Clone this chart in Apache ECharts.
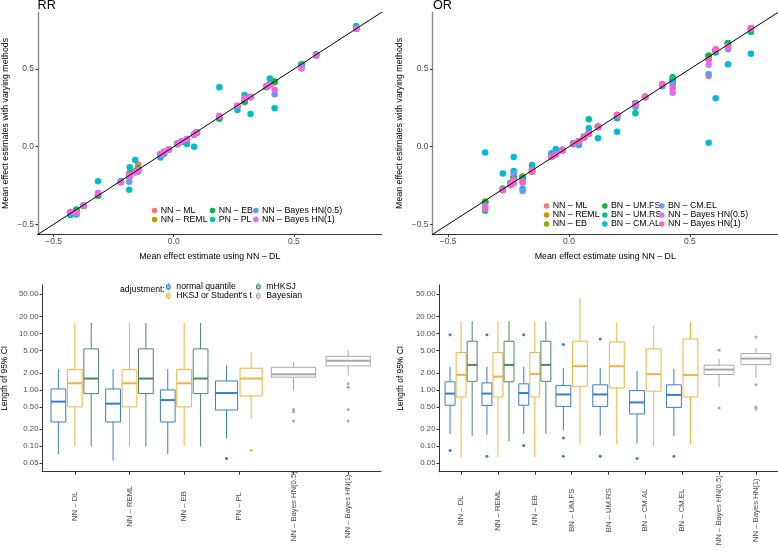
<!DOCTYPE html>
<html><head><meta charset="utf-8">
<script src="https://cdn.jsdelivr.net/npm/echarts@6/dist/echarts.min.js"></script>
<style>html,body{margin:0;padding:0;background:#fff}#c{width:778px;height:554px}</style>
</head><body><div id="c"></div>
<script>
// ---------- top panels: mean effect estimates (x = NN – DL) ----------
const rrDL   = [-0.43,-0.405,-0.375,-0.315,-0.22,-0.185,-0.183,-0.16,-0.148,-0.055,-0.04,-0.02,0.015,0.035,0.055,0.085,0.095,0.19,0.265,0.295,0.32,0.385,0.40,0.42,0.532,0.593,0.76];
const rrML   = [-0.425,-0.41,-0.38,-0.31,-0.225,-0.19,-0.17,-0.16,-0.116,-0.05,-0.035,-0.018,0.018,0.033,0.048,0.078,0.09,0.185,0.26,0.29,0.32,0.385,0.40,0.415,0.53,0.593,0.76];
const rrREML = [-0.425,-0.41,-0.38,-0.31,-0.225,-0.19,-0.17,-0.16,-0.14,-0.05,-0.035,-0.018,0.018,0.033,0.048,0.078,0.09,0.185,0.26,0.29,0.32,0.385,0.40,0.415,0.53,0.593,0.76];
const rrEB   = [-0.425,-0.405,-0.38,-0.316,-0.225,-0.19,-0.172,-0.16,-0.14,-0.05,-0.035,-0.018,0.018,0.033,0.048,0.078,0.09,0.18,0.26,0.29,0.32,0.385,0.40,0.42,0.53,0.593,0.76];
const rrPL   = [-0.44,-0.437,-0.382,-0.222,-0.225,-0.277,-0.133,-0.086,-0.16,-0.069,-0.045,-0.02,0.015,0.03,0.017,0.0,0.095,0.383,0.237,0.333,0.21,0.385,0.44,0.247,0.53,0.595,0.778];
const rrB05  = [-0.42,-0.425,-0.378,-0.30,-0.228,-0.226,-0.19,-0.165,-0.15,-0.05,-0.035,-0.018,0.02,0.035,0.05,0.08,0.092,0.195,0.262,0.31,0.318,0.39,0.395,0.338,0.51,0.588,0.76];
const rrB1   = [-0.42,-0.425,-0.38,-0.298,-0.23,-0.18,-0.19,-0.165,-0.155,-0.05,-0.035,-0.018,0.02,0.035,0.05,0.08,0.092,0.198,0.265,0.31,0.32,0.39,0.395,0.366,0.503,0.588,0.76];
const rrMethodNames = ['NN – ML','NN – REML','NN – EB','PN – PL','NN – Bayes HN(0.5)','NN – Bayes HN(1)'];

const orDL   = [-0.347,-0.274,-0.242,-0.229,-0.192,-0.153,-0.073,-0.055,-0.027,0.018,0.041,0.062,0.082,0.12,0.199,0.275,0.315,0.386,0.429,0.578,0.607,0.658,0.753];
const orML   = [-0.355,-0.275,-0.24,-0.2,-0.194,-0.161,-0.065,-0.047,-0.022,0.02,0.035,0.06,0.086,0.129,0.204,0.28,0.32,0.4,0.426,0.456,0.62,0.667,0.763];
const orREML = [-0.355,-0.275,-0.24,-0.2,-0.194,-0.161,-0.065,-0.047,-0.022,0.02,0.035,0.06,0.086,0.129,0.204,0.28,0.32,0.4,0.426,0.585,0.62,0.667,0.763];
const orEB   = [-0.355,-0.275,-0.24,-0.2,-0.194,-0.16,-0.065,-0.047,-0.022,0.02,0.035,0.06,0.086,0.129,0.204,0.28,0.32,0.4,0.426,0.585,0.62,0.667,0.763];
const orUMFS = [-0.36,-0.275,-0.24,-0.194,-0.2,-0.15,-0.062,-0.045,-0.022,0.02,0.035,0.06,0.09,0.128,0.2,0.28,0.32,0.4,0.447,0.585,0.62,0.667,0.763];
const orUMRS = [-0.413,-0.27,-0.235,-0.157,-0.21,-0.14,-0.06,-0.04,-0.022,0.02,0.03,0.06,0.176,0.125,0.183,0.215,0.32,0.395,0.44,0.56,0.606,0.66,0.738];
const orCMAL = [-0.037,-0.172,-0.232,-0.067,-0.273,-0.118,-0.043,-0.015,-0.02,0.015,0.011,0.065,0.118,0.054,0.097,0.258,0.318,0.39,0.41,0.026,0.312,0.531,0.598];
const orCMEL = [-0.38,-0.277,-0.24,-0.172,-0.286,-0.15,-0.065,-0.047,-0.022,0.02,0.035,0.06,0.086,0.128,0.2,0.28,0.32,0.398,0.398,0.469,0.62,0.628,0.763];
const orB05  = [-0.387,-0.28,-0.245,-0.237,-0.232,-0.155,-0.066,-0.05,-0.024,0.018,0.032,0.058,0.084,0.126,0.2,0.27,0.32,0.4,0.348,0.527,0.625,0.64,0.76];
const orB1   = [-0.40,-0.28,-0.247,-0.215,-0.226,-0.158,-0.066,-0.05,-0.024,0.018,0.032,0.058,0.084,0.126,0.204,0.275,0.322,0.402,0.376,0.56,0.628,0.645,0.763];
const orMethodNames = ['NN – ML','NN – REML','NN – EB','BN – UM.FS','BN – UM.RS','BN – CM.AL','BN – CM.EL','NN – Bayes HN(0.5)','NN – Bayes HN(1)'];

const effectTicks = [-0.5, 0, 0.5];
const identityLine = [-1, 1];

// ---------- bottom panels: length of 95% CI ----------
const rrCategories = ['NN – DL','NN – REML','NN – EB','PN – PL','NN – Bayes HN(0.5)','NN – Bayes HN(1)'];
const orCategories = ['NN – DL','NN – REML','NN – EB','BN – UM.FS','BN – UM.RS','BN – CM.AL','BN – CM.EL','NN – Bayes HN(0.5)','NN – Bayes HN(1)'];
const adjustmentNames = ['normal quantile', "HKSJ or Student's t", 'mHKSJ', 'Bayesian'];
const ciTicks = [0.05, 0.1, 0.2, 0.5, 1, 2, 5, 10, 20, 50];

// [min, Q1, median, Q3, max] per category; null = not applicable
const rrNormal = [[0.073,0.27,0.62,1.04,2.33],[0.056,0.27,0.57,1.04,2.33],[0.073,0.27,0.66,1.0,2.33],[0.139,0.44,0.88,1.44,2.7],null,null];
const rrHKSJ   = [[0.1,0.5,1.31,2.29,15.4],[0.1,0.5,1.31,2.29,15.4],[0.1,0.5,1.31,2.29,15.4],[0.306,0.78,1.59,2.42,4.65],null,null];
const rrMHKSJ  = [[0.1,0.86,1.59,5.33,15.4],[0.1,0.86,1.59,5.33,15.4],[0.1,0.86,1.59,5.33,15.4],null,null,null];
const rrBayes  = [null,null,null,null,[0.99,1.68,1.9,2.52,3.13],[1.8,2.66,3.27,3.95,5.05]];
const rrNormalOut = [[],[],[],[0.061],[],[]];
const rrHKSJOut   = [[],[],[],[0.085],[],[]];
const rrMHKSJOut  = [[],[],[],[],[],[]];
const rrBayesOut  = [[],[],[],[],[0.45,0.41,0.28],[1.29,1.11,0.45,0.28]];

const orNormal = [[0.166,0.535,0.86,1.39,2.56],[0.16,0.53,0.86,1.33,2.56],[0.166,0.535,0.88,1.28,2.56],[0.193,0.51,0.83,1.19,2.45],[0.155,0.51,0.83,1.23,2.45],[0.112,0.375,0.6,0.97,2.14],[0.151,0.49,0.815,1.23,2.36],null,null];
const orHKSJ   = [[0.064,0.75,1.84,4.59,16.5],[0.064,0.75,1.72,4.59,16.5],[0.064,0.75,1.92,4.59,16.5],[0.107,1.16,2.63,7.3,42.7],[0.107,1.08,2.63,7.1,15.8],[0.1,0.95,1.9,5.33,13.8],[0.107,0.75,1.84,8.0,15.8],null,null];
const orMHKSJ  = [[0.151,1.42,2.77,7.28,16.5],[0.123,1.39,2.77,7.28,16.5],[0.167,1.42,2.77,7.28,16.5],null,null,null,null,null,null];
const orBayes  = [null,null,null,null,null,null,null,[1.13,1.87,2.29,2.74,3.54],[1.65,2.81,3.59,4.4,5.55]];
const orNormalOut = [[9.5,0.084],[9.5,0.067],[9.5,0.103],[6.36,0.141,0.067],[8.0,0.067],[0.061],[0.067],[],[]];
const orHKSJOut   = [[],[],[],[],[],[],[],[],[]];
const orMHKSJOut  = [[],[],[],[],[],[],[],[],[]];
const orBayesOut  = [[],[],[],[],[],[],[],[5.05,0.48],[8.7,1.24,0.5,0.46]];

// ---------- styling ----------
const FONT = 'Liberation Sans, Arial, Helvetica, sans-serif';
const rrColors = ['#F8766D','#B79F00','#00BA38','#00BFC4','#619CFF','#F564E3'];
const orColors = ['#F8766D','#D39200','#93AA00','#00BA38','#00C19F','#00B9E3','#619CFF','#DB72FB','#FF61C3'];
const adjColors = ['#3a7ccf','#f4b13f','#4a8a62','#a8a8a8'];
const LG = v => Math.log10(v);
const minusFmt = v => (Math.abs(v) < 1e-9 ? '0.0' : v.toFixed(1)).replace('-', '\u2212');

const series = [];

function scatterPanel(prefix, gi, xs, ysList, names, colors) {
  ysList.forEach((ys, k) => {
    series.push({
      type: 'scatter', name: prefix + '|' + names[k], xAxisIndex: gi, yAxisIndex: gi,
      data: xs.map((x, i) => [x, ys[i]]), symbolSize: 6.5,
      itemStyle: { color: colors[k], opacity: 1 }, emphasis: { disabled: true }, z: 3
    });
  });
  series.push({
    type: 'line', xAxisIndex: gi, yAxisIndex: gi, data: identityLine.map(v => [v, v]),
    symbol: 'none', clip: true, lineStyle: { color: '#000', width: 1 }, silent: true, z: 5
  });
}
scatterPanel('RR', 0, rrDL, [rrML, rrREML, rrEB, rrPL, rrB05, rrB1], rrMethodNames, rrColors);
scatterPanel('OR', 1, orDL, [orML, orREML, orEB, orUMFS, orUMRS, orCMAL, orCMEL, orB05, orB1], orMethodNames, orColors);

function renderBox(params, api) {
  const x = api.value(0), hw = api.value(6);
  const c = api.visual('color');
  const pt = v => api.coord([x, v]);
  const pMin = pt(api.value(1)), pQ1 = pt(api.value(2)), pMed = pt(api.value(3)), pQ3 = pt(api.value(4)), pMax = pt(api.value(5));
  const xl = api.coord([x - hw, api.value(3)])[0], xr = api.coord([x + hw, api.value(3)])[0];
  const ls = { stroke: c, lineWidth: 1, fill: null };
  return { type: 'group', children: [
    { type: 'line', shape: { x1: pMax[0], y1: pMax[1], x2: pQ3[0], y2: pQ3[1] }, style: ls },
    { type: 'line', shape: { x1: pQ1[0], y1: pQ1[1], x2: pMin[0], y2: pMin[1] }, style: ls },
    { type: 'rect', shape: { x: xl, y: pQ3[1], width: xr - xl, height: pQ1[1] - pQ3[1] }, style: { stroke: c, lineWidth: 1, fill: '#fff' } },
    { type: 'line', shape: { x1: xl, y1: pMed[1], x2: xr, y2: pMed[1] }, style: { stroke: c, lineWidth: 2 } }
  ] };
}

function boxPanel(gi, boxSets, outSets) {
  const n = boxSets[0].length;
  const layout = [];
  for (let i = 0; i < n; i++) {
    const present = boxSets.map((s, k) => (s[i] ? k : -1)).filter(k => k >= 0);
    const cnt = present.length;
    layout[i] = {};
    present.forEach((k, j) => { layout[i][k] = { x: i - 0.45 + 0.9 * (j + 0.5) / cnt, hw: 0.405 / cnt }; });
  }
  boxSets.forEach((set, k) => {
    const data = [];
    set.forEach((b, i) => { if (b) { const L = layout[i][k]; data.push([L.x, LG(b[0]), LG(b[1]), LG(b[2]), LG(b[3]), LG(b[4]), L.hw]); } });
    if (!data.length) return;
    series.push({ type: 'custom', name: adjustmentNames[k], xAxisIndex: gi, yAxisIndex: gi, data,
      renderItem: renderBox, itemStyle: { color: adjColors[k] }, encode: { x: 0, y: [1, 2, 3, 4, 5] }, z: 2, silent: true });
    const od = [];
    outSets[k].forEach((arr, i) => arr.forEach(v => od.push([layout[i][k].x, LG(v)])));
    series.push({ type: 'scatter', name: adjustmentNames[k], xAxisIndex: gi, yAxisIndex: gi, data: od,
      symbolSize: 3, itemStyle: { color: adjColors[k], opacity: 1 }, z: 3, silent: true });
  });
}
boxPanel(2, [rrNormal, rrHKSJ, rrMHKSJ, rrBayes], [rrNormalOut, rrHKSJOut, rrMHKSJOut, rrBayesOut]);
boxPanel(3, [orNormal, orHKSJ, orMHKSJ, orBayes], [orNormalOut, orHKSJOut, orMHKSJOut, orBayesOut]);

// ---------- axes ----------
function effX(gi) {
  return { type: 'value', gridIndex: gi, min: -0.565, max: 0.865,
    name: 'Mean effect estimate using NN \u2013 DL', nameLocation: 'middle', nameGap: 18,
    nameTextStyle: { fontFamily: FONT, fontSize: 8.8, color: '#000' },
    axisLine: { onZero: false, lineStyle: { color: '#333', width: 1 } },
    axisTick: { customValues: effectTicks, length: 2.5, lineStyle: { color: '#333' } },
    axisLabel: { customValues: effectTicks, formatter: minusFmt, fontFamily: FONT, fontSize: 8.5, color: '#4d4d4d', margin: 3 },
    splitLine: { show: false } };
}
function effY(gi) {
  return { type: 'value', gridIndex: gi, min: -0.565, max: 0.865,
    name: 'Mean effect estimates with varying methods', nameLocation: 'middle', nameGap: 28,
    nameTextStyle: { fontFamily: FONT, fontSize: 8.8, color: '#000' },
    axisLine: { onZero: false, lineStyle: { color: '#8a8a8a', width: 1.4 } },
    axisTick: { customValues: effectTicks, length: 2.5, lineStyle: { color: '#333' } },
    axisLabel: { customValues: effectTicks, formatter: minusFmt, fontFamily: FONT, fontSize: 8.5, color: '#4d4d4d', margin: 4 },
    splitLine: { show: false } };
}
function catX(gi, cats, margin) {
  const idx = cats.map((c, i) => i);
  return { type: 'value', gridIndex: gi, min: -0.6, max: cats.length - 0.4,
    axisLine: { onZero: false, lineStyle: { color: '#333', width: 1 } },
    axisTick: { customValues: idx, length: 3, lineStyle: { color: '#333' } },
    axisLabel: { customValues: idx, formatter: v => cats[Math.round(v)], rotate: 90, align: 'center', verticalAlign: 'middle',
      margin: margin, fontFamily: FONT, fontSize: 7.7, color: '#4d4d4d' },
    splitLine: { show: false } };
}
function ciY(gi, gap) {
  const tv = ciTicks.map(LG);
  return { type: 'value', gridIndex: gi, min: LG(0.0355), max: LG(72.3),
    name: 'Length of 95% CI', nameLocation: 'middle', nameGap: gap,
    nameTextStyle: { fontFamily: FONT, fontSize: 8.4, color: '#000' },
    axisLine: { onZero: false, lineStyle: { color: '#333', width: 1 } },
    axisTick: { customValues: tv, length: 2.5, lineStyle: { color: '#333' } },
    axisLabel: { customValues: tv, formatter: v => Math.pow(10, v).toFixed(2), fontFamily: FONT, fontSize: 7.8, color: '#4d4d4d', margin: 3.5 },
    splitLine: { show: false } };
}

// ---------- legends ----------
const strip = n => n.split('|')[1];
// small icon box + same-colour border => 5.5px dot sitting close to its text
function dotLegend(prefix, names, colors, left, top, lh) {
  return { orient: 'vertical', left, top, itemGap: 0, itemWidth: 2.2, itemHeight: 2.2, padding: 0,
    icon: 'circle',
    data: names.map((n, i) => ({ name: prefix + '|' + n, itemStyle: { color: colors[i], borderColor: colors[i], borderWidth: 3.3 } })),
    formatter: strip,
    textStyle: { fontFamily: FONT, fontSize: 8.8, color: '#000', lineHeight: lh } };
}
const boxIcon = 'path://M3,0V2.5M0.5,2.5H5.5V7.5H0.5ZM0.5,5H5.5M3,7.5V10';
function boxLegend(ks, left, top) {
  return { orient: 'vertical', left, top, itemGap: 0, itemWidth: 6, itemHeight: 7.3, padding: 0,
    data: ks.map(k => ({ name: adjustmentNames[k], icon: boxIcon, itemStyle: { color: '#fff', borderColor: adjColors[k], borderWidth: 1 } })),
    textStyle: { fontFamily: FONT, fontSize: 8.7, color: '#000', lineHeight: 7.3 } };
}

const option = {
  animation: false,
  backgroundColor: '#fff',
  grid: [
    { left: 37, top: 12.4, width: 344.5, height: 222 },
    { left: 432.5, top: 12.4, width: 348, height: 222 },
    { left: 42, top: 285, width: 339, height: 186.7 },
    { left: 439, top: 285, width: 339, height: 186.7 }
  ],
  xAxis: [effX(0), effX(1), catX(2, rrCategories, 34.5), catX(3, orCategories, 38.5)],
  yAxis: [effY(0), effY(1), ciY(2, 33), ciY(3, 34)],
  legend: [
    dotLegend('RR', rrMethodNames.slice(0, 2), rrColors.slice(0, 2), 151.8, 206, 7),
    dotLegend('RR', rrMethodNames.slice(2, 4), rrColors.slice(2, 4), 209.8, 206, 7),
    dotLegend('RR', rrMethodNames.slice(4, 6), rrColors.slice(4, 6), 253.1, 206, 7),
    dotLegend('OR', orMethodNames.slice(0, 3), orColors.slice(0, 3), 543.8, 201.5, 7.3),
    dotLegend('OR', orMethodNames.slice(3, 6), orColors.slice(3, 6), 602.1, 201.5, 7.3),
    dotLegend('OR', orMethodNames.slice(6, 9), orColors.slice(6, 9), 659.1, 201.5, 7.3),
    boxLegend([0, 1], 166, 282.3),
    boxLegend([2, 3], 256, 282.3)
  ],
  graphic: [
    { type: 'text', left: 37.5, top: -1.5, style: { text: 'RR', fontFamily: FONT, fontSize: 12.7, fill: '#000' } },
    { type: 'text', left: 433, top: -1.5, style: { text: 'OR', fontFamily: FONT, fontSize: 12.7, fill: '#000' } },
    { type: 'text', left: 120, top: 285, style: { text: 'adjustment:', fontFamily: FONT, fontSize: 8.7, fill: '#000' } }
  ],
  series
};
const chart = echarts.init(document.getElementById('c'), null, { renderer: 'canvas' });
chart.setOption(option);
</script></body></html>
